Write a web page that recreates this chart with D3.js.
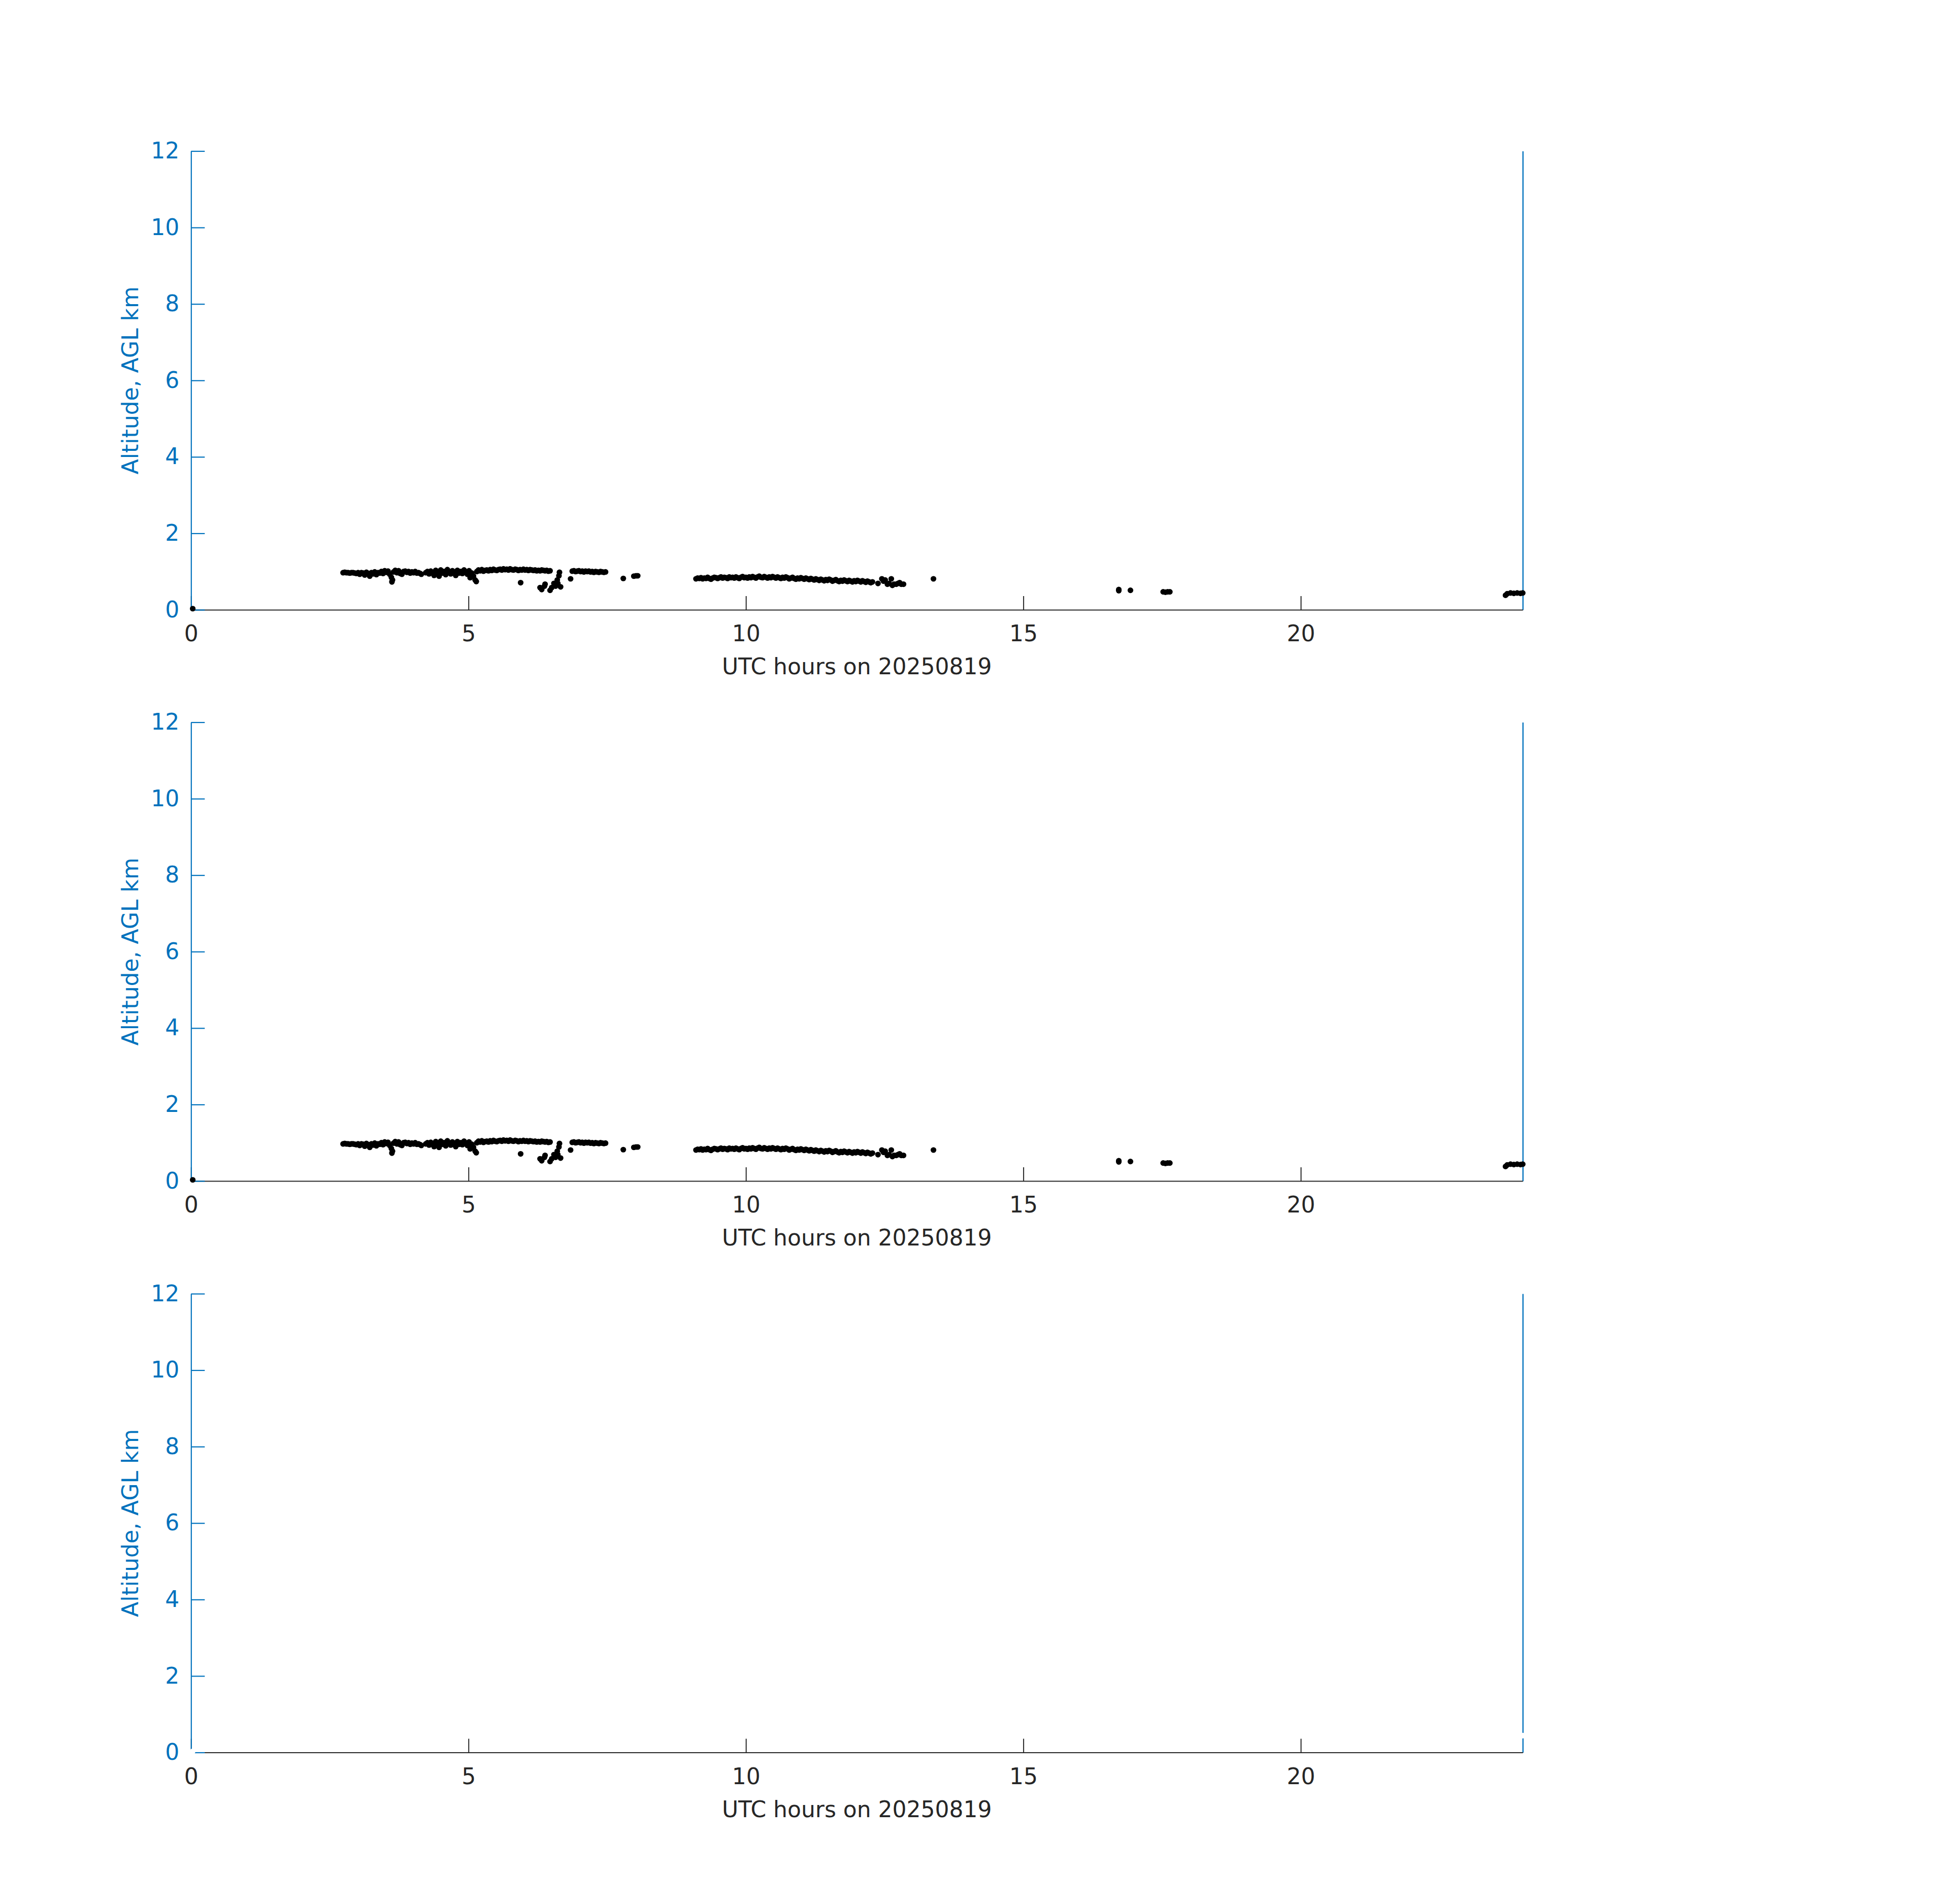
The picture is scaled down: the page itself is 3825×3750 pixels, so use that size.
<!DOCTYPE html>
<html>
<head>
<meta charset="utf-8">
<script src="https://cdn.jsdelivr.net/npm/d3@7"></script>
<style>
  body { margin: 0; background: #ffffff; }
  text { font-family: "DejaVu Sans", sans-serif; }
</style>
</head>
<body>
<div id="chart"></div>
<script>
let utcHours = [
  0.03,
  2.74, 2.77, 2.80, 2.83, 2.86, 2.89, 2.92, 2.95, 2.98, 3.01,
  3.04, 3.07, 3.10, 3.13, 3.16, 3.19, 3.22, 3.25, 3.28, 3.31,
  3.34, 3.37, 3.40, 3.43, 3.46, 3.49, 3.52, 3.55, 3.58, 3.61,
  3.62, 3.63, 3.65, 3.68, 3.71, 3.74, 3.77, 3.80, 3.83, 3.86,
  3.89, 3.92, 3.95, 3.98, 4.01, 4.04, 4.07, 4.10, 4.13, 4.15,
  4.23, 4.26, 4.29, 4.32, 4.35, 4.38, 4.41, 4.44, 4.47, 4.50,
  4.53, 4.56, 4.59, 4.62, 4.65, 4.68, 4.71, 4.74, 4.77, 4.80,
  4.83, 4.86, 4.89, 4.92, 4.95, 4.98, 5.01, 5.03, 5.06, 5.09,
  5.12, 5.14, 5.15, 5.18, 5.21, 5.24, 5.27, 5.30, 5.33, 5.36,
  5.39, 5.42, 5.45, 5.48, 5.51, 5.54, 5.57, 5.60, 5.63, 5.66,
  5.69, 5.72, 5.75, 5.78, 5.81, 5.84, 5.87, 5.90, 5.93, 5.94,
  5.96, 5.99, 6.02, 6.05, 6.08, 6.11, 6.14, 6.17, 6.20, 6.23,
  6.26, 6.29, 6.32, 6.35, 6.38, 6.41, 6.44, 6.47,
  6.29, 6.32, 6.37, 6.38, 6.47, 6.50, 6.54, 6.57, 6.60, 6.61,
  6.63, 6.64, 6.66, 6.84,
  6.87, 6.90, 6.93, 6.96, 6.99, 7.02, 7.05, 7.08, 7.11, 7.14,
  7.17, 7.20, 7.23, 7.26, 7.29, 7.32, 7.35, 7.38, 7.41, 7.44,
  7.47, 7.79, 7.98, 8.02, 8.05,
  9.10, 9.13, 9.16, 9.19, 9.22, 9.25, 9.28, 9.31, 9.34, 9.37,
  9.40, 9.43, 9.46, 9.49, 9.52, 9.55, 9.58, 9.61, 9.64, 9.67,
  9.70, 9.73, 9.76, 9.79, 9.82, 9.85, 9.88, 9.91, 9.94, 9.97,
  10.00, 10.03, 10.06, 10.09, 10.12, 10.15, 10.18, 10.21, 10.24, 10.27,
  10.30, 10.33, 10.36, 10.39, 10.42, 10.45, 10.48, 10.51, 10.54, 10.57,
  10.60, 10.63, 10.66, 10.69, 10.72, 10.75, 10.78, 10.81, 10.84, 10.87,
  10.90, 10.93, 10.96, 10.99, 11.02, 11.05, 11.08, 11.11, 11.14, 11.17,
  11.20, 11.23, 11.26, 11.29, 11.32, 11.35, 11.38, 11.41, 11.44, 11.47,
  11.50, 11.53, 11.56, 11.59, 11.62, 11.65, 11.68, 11.71, 11.74, 11.77,
  11.80, 11.83, 11.86, 11.89, 11.92, 11.95, 11.98, 12.01, 12.04, 12.07,
  12.10, 12.13, 12.16, 12.19, 12.22, 12.25, 12.28,
  12.38, 12.45, 12.48, 12.51, 12.55, 12.58, 12.62, 12.64, 12.67, 12.71,
  12.74, 12.77, 12.80, 12.84, 13.38,
  16.72, 16.72, 16.93, 17.52, 17.56, 17.60, 17.64,
  23.69, 23.72, 23.78, 23.84, 23.90, 23.96, 24.00
];
let altitudeKm = [
  0.03,
  0.97, 0.98, 0.97, 0.97, 0.96, 0.97, 0.97, 0.96, 0.95, 0.97,
  0.93, 0.97, 0.96, 0.91, 0.98, 0.95, 0.88, 0.97, 0.94, 0.99,
  0.92, 0.97, 0.96, 1.00, 0.95, 1.02, 0.98, 1.01, 0.93, 0.85,
  0.73, 0.78, 0.99, 1.03, 0.97, 1.02, 0.95, 0.93, 1.00, 1.01,
  0.98, 1.00, 0.96, 0.99, 0.97, 1.00, 0.96, 0.97, 0.95, 0.93,
  0.97, 1.00, 0.94, 1.01, 0.96, 0.90, 1.03, 0.95, 0.88, 1.04,
  0.96, 1.00, 0.92, 1.05, 0.98, 0.94, 1.02, 0.97, 0.90, 1.03,
  0.96, 1.00, 0.95, 1.04, 0.98, 0.93, 1.02, 0.84, 0.96, 0.88,
  0.78, 0.74, 1.00, 1.04, 1.02, 1.05, 1.01, 1.03, 1.04, 1.02,
  1.05, 1.03, 1.06, 1.04, 1.03, 1.05, 1.06, 1.04, 1.07, 1.05,
  1.06, 1.04, 1.07, 1.05, 1.04, 1.06, 1.05, 1.03, 1.05, 0.71,
  1.04, 1.06, 1.04, 1.05, 1.03, 1.05, 1.04, 1.03, 1.04, 1.02,
  1.03, 1.02, 1.04, 1.03, 1.02, 1.03, 1.01, 1.02,
  0.58, 0.53, 0.62, 0.67, 0.51, 0.58, 0.69, 0.62, 0.78, 0.69,
  0.89, 0.98, 0.60, 0.81,
  1.01, 1.02, 1.00, 1.01, 1.02, 1.00, 1.01, 0.99, 1.01, 1.00,
  1.01, 0.99, 1.00, 0.98, 1.00, 0.99, 0.98, 1.00, 0.99, 0.98,
  0.99, 0.82, 0.88, 0.89, 0.89,
  0.81, 0.83, 0.82, 0.84, 0.81, 0.83, 0.82, 0.85, 0.82, 0.80,
  0.83, 0.85, 0.84, 0.82, 0.84, 0.86, 0.83, 0.85, 0.84, 0.82,
  0.86, 0.84, 0.85, 0.83, 0.86, 0.84, 0.82, 0.85, 0.87, 0.84,
  0.85, 0.83, 0.86, 0.84, 0.87, 0.85, 0.83, 0.86, 0.88, 0.85,
  0.84, 0.87, 0.85, 0.83, 0.86, 0.84, 0.87, 0.85, 0.83, 0.86,
  0.84, 0.82, 0.85, 0.83, 0.86, 0.84, 0.81, 0.83, 0.85, 0.82,
  0.80, 0.83, 0.81, 0.84, 0.82, 0.80, 0.83, 0.81, 0.79, 0.82,
  0.80, 0.78, 0.81, 0.79, 0.77, 0.80, 0.78, 0.76, 0.79, 0.77,
  0.80, 0.78, 0.75, 0.77, 0.79, 0.76, 0.74, 0.77, 0.75, 0.78,
  0.76, 0.74, 0.77, 0.75, 0.73, 0.76, 0.74, 0.77, 0.75, 0.73,
  0.76, 0.74, 0.72, 0.75, 0.73, 0.71, 0.73,
  0.69, 0.81, 0.75, 0.78, 0.67, 0.69, 0.81, 0.64, 0.67, 0.67,
  0.69, 0.71, 0.67, 0.67, 0.81,
  0.53, 0.50, 0.51, 0.47, 0.46, 0.47, 0.47,
  0.38, 0.42, 0.44, 0.43, 0.44, 0.43, 0.44
];
let xTicks = [0, 5, 10, 15, 20];
let yTicks = [0, 2, 4, 6, 8, 10, 12];
let xLabel = "UTC hours on 20250819";
let yLabel = "Altitude, AGL km";
// the third panel plots the same points in white
let panelDotColors = ["#000000", "#000000", "#ffffff"];

let width = 3825, height = 3750;
let left = 376.3, right = 2999.2;
let panelBottoms = [1201, 2326, 3451.5];
let panelHeight = 903.5;
let blue = "#0072BD", gray = "#262626";

let svg = d3.select("#chart").append("svg")
    .attr("width", width)
    .attr("height", height);

svg.append("rect").attr("width", width).attr("height", height).attr("fill", "#ffffff");

let x = d3.scaleLinear().domain([0, 24]).range([0, right - left]);
let y = d3.scaleLinear().domain([0, 12]).range([panelHeight, 0]);

let points = d3.zip(utcHours, altitudeKm);

panelBottoms.forEach(function (bottom, i) {
    let g = svg.append("g")
        .attr("transform", "translate(" + left + "," + (bottom - panelHeight) + ")");

    // right-hand edge, blue, no ticks
    g.append("g")
        .attr("transform", "translate(" + x(24) + ",0)")
        .attr("color", blue)
        .call(d3.axisRight(y).tickValues([]).tickSizeOuter(0))
        .select(".domain").attr("stroke-width", 2.4);

    let gX = g.append("g")
        .attr("transform", "translate(0," + panelHeight + ")")
        .attr("color", gray)
        .call(d3.axisBottom(x).tickValues(xTicks).tickSizeInner(-27).tickSizeOuter(0).tickPadding(31));
    gX.selectAll("line, path").attr("stroke-width", 2);
    gX.selectAll("text")
        .attr("font-size", 44)
        .attr("font-family", "DejaVu Sans")
        .attr("fill", gray);

    let gY = g.append("g")
        .attr("color", blue)
        .call(d3.axisLeft(y).tickValues(yTicks).tickSizeInner(-27).tickSizeOuter(0).tickPadding(23));
    gY.selectAll("line, path").attr("stroke-width", 2.2);
    gY.selectAll("text")
        .attr("font-size", 44)
        .attr("font-family", "DejaVu Sans")
        .attr("fill", blue);

    g.append("text")
        .attr("transform", "translate(" + (271.5 - left) + "," + (panelHeight / 2) + ") rotate(-90)")
        .attr("text-anchor", "middle")
        .attr("font-size", 44)
        .attr("fill", blue)
        .text(yLabel);

    g.append("text")
        .attr("x", (right - left) / 2)
        .attr("y", panelHeight + 127)
        .attr("text-anchor", "middle")
        .attr("font-size", 44)
        .attr("fill", gray)
        .text(xLabel);

    g.append("g")
        .selectAll("circle")
        .data(points)
        .enter()
        .append("circle")
        .attr("cx", function (d) { return x(d[0]); })
        .attr("cy", function (d) { return y(d[1]); })
        .attr("r", 5.6)
        .attr("fill", panelDotColors[i]);
});
</script>
</body>
</html>
